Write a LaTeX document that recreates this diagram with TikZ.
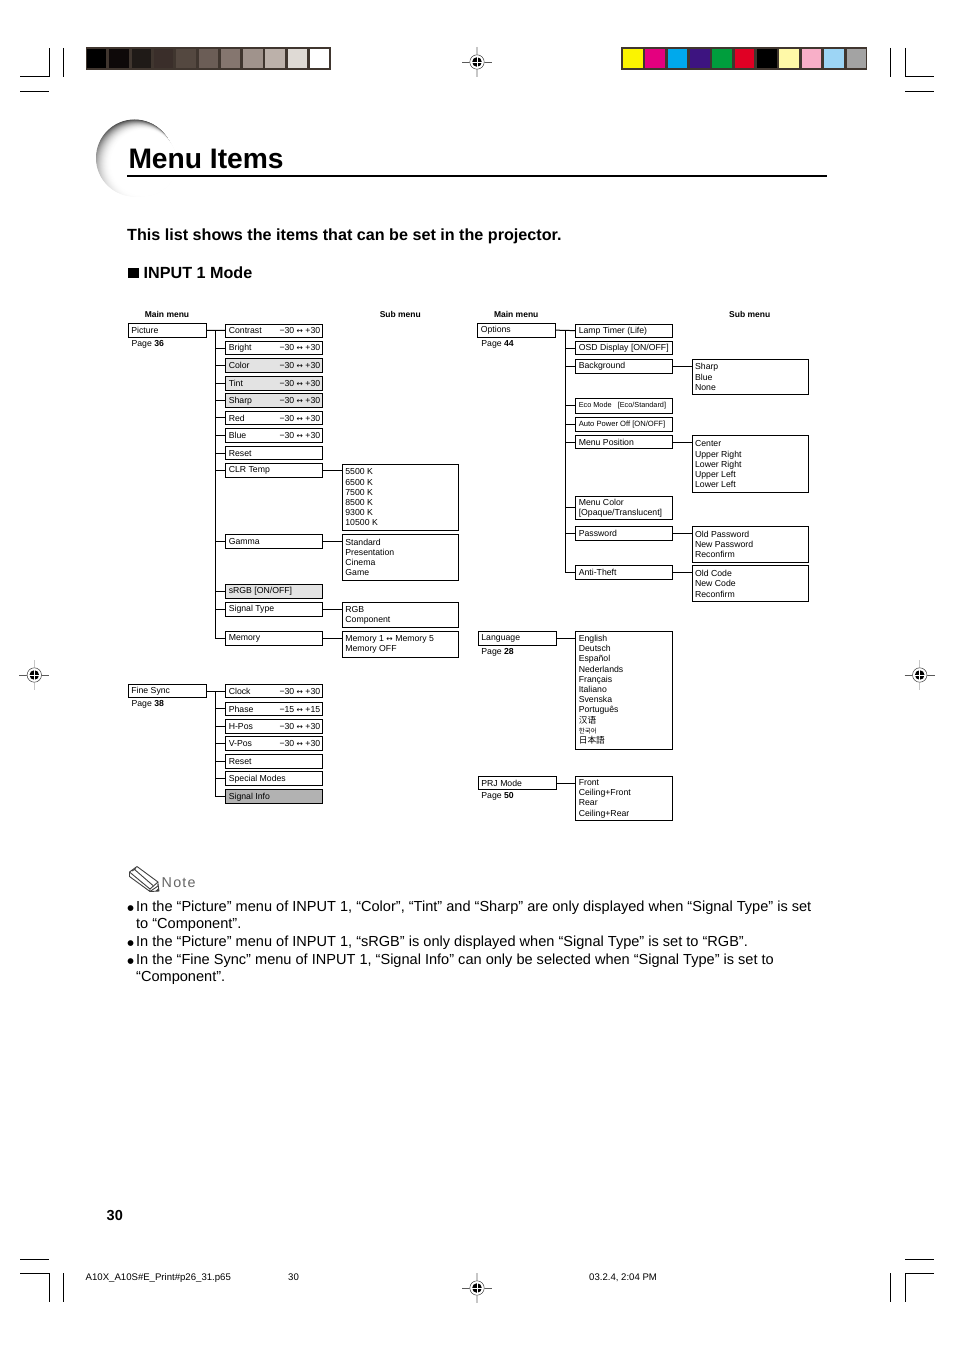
\documentclass[tikz,border=0pt]{standalone}
\usepackage{fontspec}
\setmainfont{Liberation Sans}
\newfontfamily\krfont{Noto Sans CJK KR}
\newfontfamily\scfont{Noto Sans CJK SC}
\newfontfamily\jpfont{Noto Sans CJK JP}
\newfontfamily\dv{DejaVu Sans}
\usetikzlibrary{fadings}
\definecolor{frame}{HTML}{40362F}
\tikzfading[name=fadedown, top color=transparent!100, bottom color=transparent!0]
\tikzset{
  x=1pt,y=-1pt,
  lw/.style={line width=1pt},
  mbox/.style={draw,lw,fill=white,rectangle,anchor=north west,inner sep=0pt,outer sep=0pt,
     font=\fontsize{8.7}{10.2}\selectfont},
  lbl/.style={anchor=base west,inner sep=0pt,font=\fontsize{8.7}{10.2}\selectfont},
  foot/.style={anchor=base west,inner sep=0pt,font=\fontsize{9.6}{11}\selectfont},
  head/.style={anchor=base,inner sep=0pt,font=\fontsize{8.5}{10.2}\selectfont\bfseries},
  link/.style={lw},
  crop/.style={line width=0.8pt},
  graya/.style={fill=black!11},
  grayb/.style={fill=black!30},
  noteline/.style={anchor=base west,inner sep=0pt,font=\fontsize{14.56}{17}\selectfont},
  bulletmark/.style={anchor=base west,inner sep=0pt,font=\dv\fontsize{7.5}{9}\selectfont},
  boldline/.style={anchor=base west,inner sep=0pt,font=\fontsize{16.15}{18}\selectfont\bfseries},
}
% box: name, x0,y0,x1,y1, options, text
\newcommand{\mb}[7][]{%
  \pgfmathsetmacro{\bw}{#5-#3}\pgfmathsetmacro{\bh}{#6-#4}\pgfmathsetmacro{\tw}{#5-#3-5}%
  \node[mbox,minimum width=\bw pt,minimum height=\bh pt,#1] (#2) at (#3,#4)
    {\begin{minipage}{\tw pt}\vspace*{0.5pt}\leftskip=0.6pt\hspace*{0pt}#7\end{minipage}};}
\newcommand{\arr}{{\dv\fontsize{7.6}{6}\selectfont ↔}}
\newcommand{\rng}[2]{\hfill\mbox{−#1\hspace{2.4pt}\arr\hspace{2.4pt}+#2}}
\newcommand{\regmark}[2]{%
  \draw[line width=1.1pt,black!22] (#1,#2-15) -- (#1,#2+15);
  \draw[line width=0.5pt,black!65] (#1-15,#2) -- (#1+15,#2);
  \fill[white] (#1,#2) circle (7.5);
  \draw[line width=0.5pt,black!75] (#1,#2) circle (7.2);
  \fill[black] (#1,#2) circle (4.8);
  \draw[line width=0.9pt,white] (#1,#2-5) -- (#1,#2+5) (#1-5,#2) -- (#1+5,#2);
}
\begin{document}
\begin{tikzpicture}
\useasboundingbox (0,0) rectangle (954,1351);
\fill[white] (0,0) rectangle (954,1351);
% colour bars
\fill[frame] (86,47) rectangle (331,70);
\foreach \c [count=\i from 0] in {000000,0E0909,1F1A17,3A2E2A,544840,6B5D56,85766F,A0938C,BCB1AA,DFDAD5,FFFFFF}{
  \definecolor{cc}{HTML}{\c}
  \fill[cc] (87+22.3*\i,49) rectangle ++(19.4,19);
}
\fill[frame] (621,47) rectangle (867,70);
\foreach \c [count=\i from 0] in {FBF400,E4007F,00A9EC,3D1480,009E3D,E00024,000000,FFF9A8,F8AFC8,9DD5F5,A3A3A3}{
  \definecolor{cc}{HTML}{\c}
  \fill[cc] (623+22.35*\i,49) rectangle ++(19.6,19);
}
% crop marks
\draw[crop] (20,76.5) -- (49.3,76.5) -- (49.3,48) (63.3,48) -- (63.3,76.7) (20,91.5) -- (49,91.5);
\draw[crop] (890.3,48) -- (890.3,76.7) (905.3,48) -- (905.3,76.5) -- (934,76.5) (905,91.5) -- (934,91.5);
\draw[crop] (20,1259.5) -- (49,1259.5) (20,1273.5) -- (49,1273.5) -- (49,1302) (63.3,1273) -- (63.3,1302);
\draw[crop] (905,1259.5) -- (934,1259.5) (934,1273.5) -- (905.3,1273.5) -- (905.3,1302) (890.3,1273) -- (890.3,1302);
\regmark{477}{62}
\regmark{477}{1288}
\regmark{34.3}{675}
\regmark{919.7}{675}
% title swoosh
\begin{scope}
\foreach \t in {0,...,30}{
  \pgfmathsetmacro{\u}{\t/30}
  \pgfmathsetmacro{\g}{72*(1-\u)*(1-\u)}
  \pgfmathsetmacro{\r}{38.5-5.5*\u}
  \pgfmathsetmacro{\cx}{134.5+9.5*\u}
  \pgfmathsetmacro{\cy}{158+5*\u}
  \fill[black!\g!white] (\cx,\cy) circle (\r);
}
\fill[white,path fading=fadedown] (94,122) rectangle (176,198);
\end{scope}
\node[anchor=base west,inner sep=0pt,font=\fontsize{28.2}{32}\selectfont\bfseries] (title) at (128.3,168.2) {Menu Items};
\coordinate (ruleA) at (127,176);
\coordinate (ruleB) at (827,176);
\draw[line width=2pt] (ruleA) -- (ruleB);
\node[boldline] (lead) at (127,240) {This list shows the items that can be set in the projector.};
\fill (127.5,267.5) rectangle (138.5,278);
\node[boldline] (mode) at (143.5,278) {INPUT 1 Mode};
% headers
\node[head] (h1) at (167,317.7) {Main menu};
\node[head] (h2) at (400.3,317.7) {Sub menu};
\node[head] (h3) at (516.2,317.7) {Main menu};
\node[head] (h4) at (749.7,317.7) {Sub menu};
% Picture
\mb{picture}{128.3}{323.3}{206.7}{337.3}{Picture}
\node[lbl] (p36) at (131.4,346.2) {Page \textbf{36}};
\mb{contrast}{225.7}{324}{322.7}{337}{Contrast\rng{30}{30}}
\mb{bright}{225.7}{341.7}{322.7}{354.7}{Bright\rng{30}{30}}
\mb[graya]{color}{225.7}{358.7}{322.7}{372.3}{Color\rng{30}{30}}
\mb[graya]{tint}{225.7}{376.3}{322.7}{390}{Tint\rng{30}{30}}
\mb[graya]{sharp}{225.7}{393.7}{322.7}{407.3}{Sharp\rng{30}{30}}
\mb{red}{225.7}{411.3}{322.7}{424.3}{Red\rng{30}{30}}
\mb{blue}{225.7}{428.7}{322.7}{442}{Blue\rng{30}{30}}
\mb{reset}{225.7}{446.7}{322.7}{459.3}{Reset}
\mb{clr}{225.7}{463.7}{322.7}{477.3}{CLR Temp}
\mb{gamma}{225.7}{534.3}{322.7}{548}{Gamma}
\mb[graya]{srgb}{225.7}{584.3}{322.7}{598.3}{sRGB [ON/OFF]}
\mb{sigtype}{225.7}{602.3}{322.7}{616}{Signal Type}
\mb{memory}{225.7}{631.3}{322.7}{645}{Memory}
\mb{clrsub}{342.3}{464.3}{458.3}{530}{5500 K\\6500 K\\7500 K\\8500 K\\9300 K\\10500 K}
\mb{gammasub}{342.3}{534.3}{458.3}{580.3}{Standard\\Presentation\\Cinema\\Game}
\mb{sigsub}{342.3}{602.3}{458.3}{627.7}{RGB\\Component}
\mb{memsub}{342.3}{631.3}{458.3}{657.3}{Memory 1 \arr\ Memory 5\\Memory OFF}
\coordinate (t1) at (215.7,330.5);
\draw[link] (picture.east) -- (contrast.west);
\draw[link] (t1) |- (memory.west);
\foreach \n in {bright,color,tint,sharp,red,blue,reset,clr,gamma,srgb,sigtype}
  \draw[link] (t1 |- \n.west) -- (\n.west);
\draw[link] (clr.east) -- (clr.east -| clrsub.west);
\draw[link] (gamma.east) -- (gamma.east -| gammasub.west);
\draw[link] (sigtype.east) -- (sigtype.east -| sigsub.west);
\draw[link] (memory.east) -- (memory.east -| memsub.west);
% Fine Sync
\mb{finesync}{128.3}{684.7}{206.7}{697.7}{Fine Sync}
\node[lbl] (p38) at (131.4,706.4) {Page \textbf{38}};
\mb{clock}{225.7}{684.7}{322.7}{697.7}{Clock\rng{30}{30}}
\mb{phase}{225.7}{702}{322.7}{715.3}{Phase\rng{15}{15}}
\mb{hpos}{225.7}{719.3}{322.7}{733}{H-Pos\rng{30}{30}}
\mb{vpos}{225.7}{736.7}{322.7}{750.3}{V-Pos\rng{30}{30}}
\mb{reset2}{225.7}{754.3}{322.7}{768.3}{Reset}
\mb{special}{225.7}{771.7}{322.7}{785.3}{Special Modes}
\mb[grayb]{siginfo}{225.7}{789.7}{322.7}{803.3}{\raisebox{-0.8pt}{Signal Info}}
\coordinate (t2) at (215.7,691.2);
\draw[link] (finesync.east) -- (clock.west);
\draw[link] (t2) |- (siginfo.west);
\foreach \n in {phase,hpos,vpos,reset2,special}
  \draw[link] (t2 |- \n.west) -- (\n.west);
% Options
\mb{options}{477.7}{323.3}{555.7}{337}{Options}
\node[lbl] (p44) at (481.2,346.2) {Page \textbf{44}};
\mb{lamp}{575.7}{324}{672.7}{337.3}{Lamp Timer (Life)}
\mb{osd}{575.7}{341.3}{672.7}{354.7}{OSD Display [ON/OFF]}
\mb{bg}{575.7}{359.3}{672.7}{373.3}{Background}
\mb{eco}{575.7}{398.3}{672.7}{413.3}{{\fontsize{7.3}{9}\selectfont Eco Mode\ \ \ [Eco/Standard]}}
\mb{auto}{575.7}{417.3}{672.7}{431.3}{{\fontsize{7.6}{9}\selectfont Auto Power Off [ON/OFF]}}
\mb{menupos}{575.7}{435.3}{672.7}{448.7}{Menu Position}
\mb{menucolor}{575.7}{496.3}{672.7}{519.3}{Menu Color\\{}[Opaque/Translucent]}
\mb{password}{575.7}{526.3}{672.7}{540}{Password}
\mb{antitheft}{575.7}{565.7}{672.7}{579.3}{Anti-Theft}
\mb{bgsub}{692}{359.3}{808.3}{394.3}{Sharp\\Blue\\None}
\mb{possub}{692}{435.3}{808.3}{492.7}{Center\\Upper Right\\Lower Right\\Upper Left\\Lower Left}
\mb{passsub}{692}{526.3}{808.3}{562.3}{Old Password\\New Password\\Reconfirm}
\mb{codesub}{692}{565.7}{808.3}{601.3}{Old Code\\New Code\\Reconfirm}
\coordinate (t3) at (565.7,330.5);
\draw[link] (options.east) -- (lamp.west);
\draw[link] (t3) |- (antitheft.west);
\foreach \n in {osd,bg,eco,auto,menupos,menucolor,password}
  \draw[link] (t3 |- \n.west) -- (\n.west);
\draw[link] (bg.east) -- (bg.east -| bgsub.west);
\draw[link] (menupos.east) -- (menupos.east -| possub.west);
\draw[link] (password.east) -- (password.east -| passsub.west);
\draw[link] (antitheft.east) -- (antitheft.east -| codesub.west);
% Language
\mb{language}{478.3}{631.7}{556.7}{645}{Language}
\node[lbl] (p28) at (481.2,654.4) {Page \textbf{28}};
\mb{langsub}{575.7}{631.7}{672.7}{749.3}{English\\Deutsch\\Español\\Nederlands\\Français\\Italiano\\Svenska\\Português\\\smash{\scfont 汉语}\\\smash{\krfont\fontsize{6.5}{8}\selectfont 한국어}\\\smash{\jpfont 日本語}\par\vspace*{3pt}}
\draw[link] (language.east) -- (language.east -| langsub.west);
% PRJ Mode
\mb{prj}{478.3}{776.7}{556.7}{789.3}{PRJ Mode}
\node[lbl] (p50) at (481.2,798) {Page \textbf{50}};
\mb{prjsub}{575.7}{776.7}{672.7}{820.3}{Front\\Ceiling+Front\\Rear\\Ceiling+Rear}
\draw[link] (prj.east) -- (prj.east -| prjsub.west);
% Note icon
\begin{scope}[line width=0.9pt,black!75,line join=round]
\draw (129.5,872) -- (137,866.5) -- (158,882) -- (150,889) -- cycle;
\draw (129.5,872) -- (129.5,876.5) -- (150,891.5) -- (150,889);
\draw (150,891.5) -- (158,886) -- (158,882);
\draw (134,869) -- (153,885.5);
\draw (132,871) -- (136,868.5);
\draw (150,891.5) -- (159,891) -- (158,884);
\fill (155.5,891) -- (159,891) -- (158.5,888) -- cycle;
\end{scope}
\node[anchor=base west,inner sep=0pt,text=black!60,font=\fontsize{14.3}{17}\selectfont\addfontfeatures{LetterSpace=8.7}] (note) at (161.5,887) {Note};
\node[bulletmark] (b1) at (127.2,910) {●};
\node[noteline] (n1) at (136,911) {In the “Picture” menu of INPUT 1, “Color”, “Tint” and “Sharp” are only displayed when “Signal Type” is set};
\node[noteline] (n1b) at (136,928.5) {to “Component”.};
\node[bulletmark] (b2) at (127.2,945) {●};
\node[noteline] (n2) at (136,946) {In the “Picture” menu of INPUT 1, “sRGB” is only displayed when “Signal Type” is set to “RGB”.};
\node[bulletmark] (b3) at (127.2,963) {●};
\node[noteline] (n3) at (136,964) {In the “Fine Sync” menu of INPUT 1, “Signal Info” can only be selected when “Signal Type” is set to};
\node[noteline] (n3b) at (136,981.5) {“Component”.};
% footer
\node[anchor=base west,inner sep=0pt,font=\fontsize{14.5}{17}\selectfont\bfseries] (pg) at (106.5,1220) {30};
\node[foot] (f1) at (85.5,1280) {A10X\_A10S\#E\_Print\#p26\_31.p65};
\node[foot] (f2) at (288,1280) {30};
\node[foot] (f3) at (589,1280) {03.2.4, 2:04 PM};
\end{tikzpicture}
\end{document}
